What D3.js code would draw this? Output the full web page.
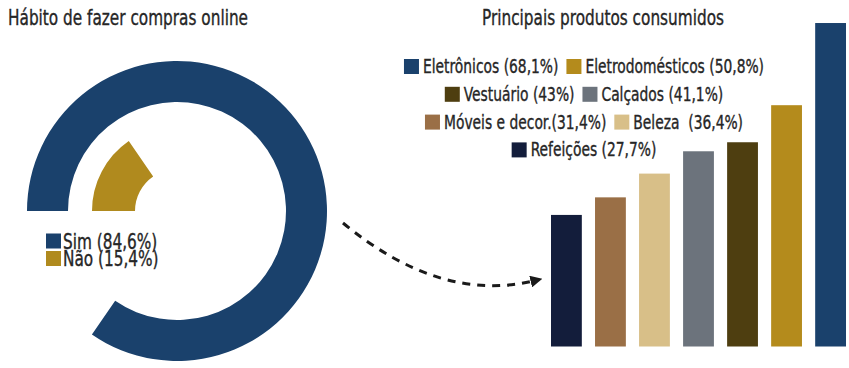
<!DOCTYPE html>
<html><head><meta charset="utf-8">
<script src="https://cdn.jsdelivr.net/npm/d3@7"></script>
<style>
html,body{margin:0;padding:0;background:#fff;}
svg{display:block;}
text{font-family:"DejaVu Sans Condensed","DejaVu Sans",sans-serif;fill:#262626;stroke:#262626;stroke-width:0.35px;}
</style></head>
<body><svg id="c" width="849" height="368"></svg>
<script>
// ---- data ----
const habitTitle = "Hábito de fazer compras online";
const habitCategories = ["Sim", "Não"];
const habitValues = [84.6, 15.4];
const habitLabels = ["Sim (84,6%)", "Não (15,4%)"];
const habitColors = ["#1a416c", "#b08a1e"];

const productsTitle = "Principais produtos consumidos";
const productCategories = ["Eletrônicos", "Eletrodomésticos", "Vestuário", "Calçados", "Móveis e decor.", "Beleza", "Refeições"];
const productValues = [68.1, 50.8, 43, 41.1, 31.4, 36.4, 27.7];
const productLabels = ["Eletrônicos (68,1%)", "Eletrodomésticos (50,8%)", "Vestuário (43%)", "Calçados (41,1%)", "Móveis e decor.(31,4%)", "Beleza\u00a0\u00a0(36,4%)", "Refeições (27,7%)"];
const productColors = ["#1a416c", "#b48b1c", "#4e3e10", "#6c737c", "#9a6f46", "#d8bf88", "#131d3b"];
const legendRows = [[0, 1], [2, 3], [4, 5], [6]];

// ---- drawing ----
const svg = d3.select("#c");
const SQUEEZE = 0.81;
function fit(t) {
  const w = t.node().getComputedTextLength() * SQUEEZE;
  t.attr("textLength", w).attr("lengthAdjust", "spacingAndGlyphs");
  return w;
}

// titles
fit(svg.append("text").attr("x", 8).attr("y", 25).style("font-size", "21px").text(habitTitle));
fit(svg.append("text").attr("x", 482).attr("y", 25).style("font-size", "21px").text(productsTitle));

// donut
const cx = 177, cy = 211;
const ang = d3.scaleLinear().domain([0, 100]).range([-Math.PI / 2, 1.5 * Math.PI]);
const radii = [[109, 150], [42, 85]];
const g = svg.append("g").attr("transform", `translate(${cx},${cy})`);
habitValues.forEach((v, i) => {
  const arc = d3.arc().innerRadius(radii[i][0]).outerRadius(radii[i][1])
    .startAngle(ang(0)).endAngle(ang(v));
  g.append("path").attr("d", arc()).attr("fill", habitColors[i]);
});

// left legend
habitCategories.forEach((c, i) => {
  const y = 248.5 + i * 17.5;
  svg.append("rect").attr("x", 46).attr("y", y - 15).attr("width", 15).attr("height", 15).attr("fill", habitColors[i]);
  fit(svg.append("text").attr("x", 63).attr("y", y).style("font-size", "21px").text(habitLabels[i]));
});

// arrow
const defs = svg.append("defs");
defs.append("marker").attr("id", "ah").attr("viewBox", "0 0 10 10").attr("refX", 2).attr("refY", 5)
  .attr("markerWidth", 4).attr("markerHeight", 4).attr("orient", "auto")
  .append("path").attr("d", "M0,0L10,5L0,10Z").attr("fill", "#1a1a1a");
const lp = d3.path();
lp.moveTo(343, 223);
lp.quadraticCurveTo(440, 303, 533, 281);
svg.append("path").attr("d", lp.toString()).attr("fill", "none").attr("stroke", "#1a1a1a")
  .attr("stroke-width", 3).attr("stroke-dasharray", "8,7").attr("marker-end", "url(#ah)");

// bars
const order = d3.range(productValues.length).sort((a, b) => productValues[a] - productValues[b]);
const x = d3.scaleBand().domain(order).range([551, 846]).paddingInner(0.3).paddingOuter(0);
const y = d3.scaleLinear().domain([0, 70]).range([346.5, 14]);
svg.append("g").selectAll("rect").data(order).join("rect")
  .attr("x", d => x(d)).attr("width", x.bandwidth())
  .attr("y", d => y(productValues[d])).attr("height", d => y(0) - y(productValues[d]))
  .attr("fill", d => productColors[d]);

// right legend
const legendFont = 19, sq = 15, centerX = 584;
legendRows.forEach((row, r) => {
  const base = 73 + r * 27.8;
  const rg = svg.append("g");
  let cur = 0;
  row.forEach((idx, k) => {
    if (k > 0) cur += 8;
    rg.append("rect").attr("x", cur).attr("y", base - 14).attr("width", sq).attr("height", sq).attr("fill", productColors[idx]);
    cur += sq + 4;
    const t = rg.append("text").attr("x", cur).attr("y", base).style("font-size", legendFont + "px").text(productLabels[idx]);
    cur += fit(t);
  });
  rg.attr("transform", `translate(${centerX - cur / 2},0)`);
});
</script></body></html>
